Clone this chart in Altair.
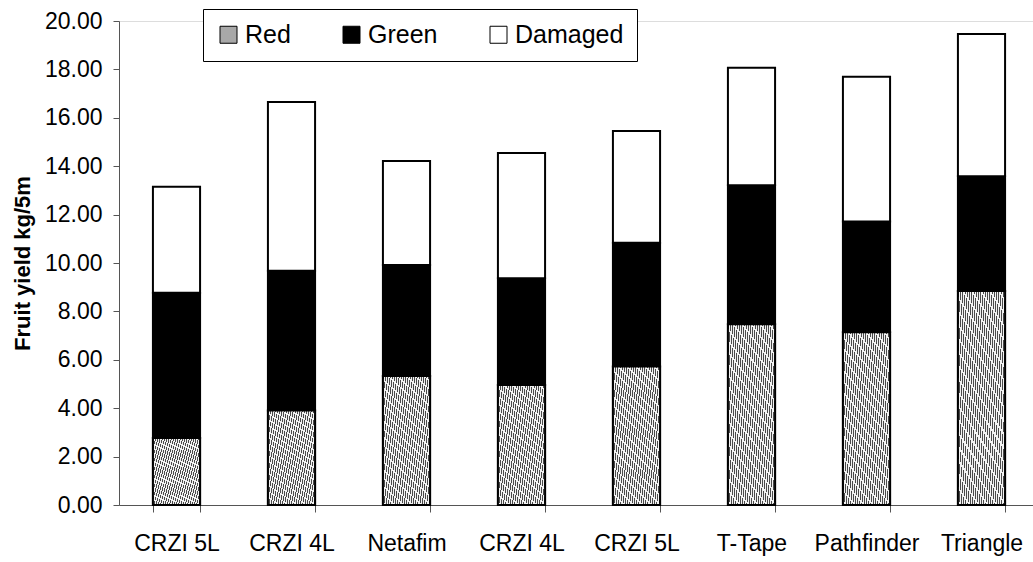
import json
import altair as alt
import pandas as pd

# Fruit yield per treatment, split into red, green and damaged fruit (kg per 5 m)
categories = ["CRZI 5L", "CRZI 4L", "Netafim", "CRZI 4L", "CRZI 5L", "T-Tape", "Pathfinder", "Triangle"]
red = [2.77, 3.90, 5.33, 4.96, 5.72, 7.47, 7.14, 8.84]
green = [6.00, 5.78, 4.59, 4.41, 5.12, 5.74, 4.58, 4.74]
damaged = [4.38, 6.97, 4.29, 5.18, 4.61, 4.86, 5.98, 5.88]
series = ["Red", "Green", "Damaged"]
y_ticks = [0, 2, 4, 6, 8, 10, 12, 14, 16, 18, 20]

rows = []
for i, cat in enumerate(categories):
    for k, (name, vals) in enumerate(zip(series, [red, green, damaged])):
        rows.append({"slot": i, "name": cat, "series": name, "order": k, "value": vals[i]})
df = pd.DataFrame(rows)

FONT = "Liberation Sans"
label_expr = "{}[datum.value]".format(json.dumps(categories))

# fine diagonal striped fill used for the "Red" segments
n_stripes = 34
stops = []
for k in range(n_stripes):
    a = k / n_stripes
    b = (k + 0.4) / n_stripes
    c = (k + 1) / n_stripes
    stops += [
        {"offset": a, "color": "#4a4a4a"},
        {"offset": b, "color": "#4a4a4a"},
        {"offset": b, "color": "#f2f2f2"},
        {"offset": c, "color": "#f2f2f2"},
    ]
# vector runs from the bottom-left corner far enough to cover the whole box
hatch = alt.Gradient(gradient="linear", stops=stops, x1=0, y1=1, x2=1.19, y2=0.642)

x_enc = alt.X(
    "slot:O",
    scale=alt.Scale(range=[0, 920], paddingInner=0.59, paddingOuter=0.295),
    axis=alt.Axis(
        title=None,
        labelExpr=label_expr,
        labelAngle=0,
        labelFont=FONT,
        labelFontSize=23,
        labelColor="black",
        labelPadding=20,
        tickBand="extent",
        tickSize=7,
        tickColor="#555555",
        domainColor="#555555",
    ),
)

y_enc = alt.Y(
    "value:Q",
    stack="zero",
    scale=alt.Scale(domain=[0, 20], nice=False),
    axis=alt.Axis(
        title="Fruit yield kg/5m",
        values=y_ticks,
        format=".2f",
        grid=False,
        labelFont=FONT,
        labelFontSize=23,
        labelColor="black",
        labelPadding=11,
        tickSize=6,
        tickColor="#555555",
        domainColor="#555555",
        titleFont=FONT,
        titleFontSize=22,
        titleFontWeight="bold",
        titleColor="black",
        titleAngle=-90,
        titleX=-90,
        titleY=242,
        titleAlign="center",
        titleBaseline="alphabetic",
    ),
)

bars = alt.Chart(df).mark_bar(stroke="black", strokeWidth=2).encode(
    x=x_enc,
    y=y_enc,
    fill=alt.Fill(
        "series:N",
        scale=alt.Scale(domain=series, range=["#a8a8a8", "#000000", "#ffffff"]),
        legend=alt.Legend(
            title=None,
            orient="none",
            direction="horizontal",
            legendX=84,
            legendY=-12,
            padding=13,
            strokeColor="black",
            fillColor="white",
            symbolType="square",
            symbolSize=289,
            symbolStrokeColor="black",
            symbolStrokeWidth=1,
            symbolOpacity=1,
            labelFont=FONT,
            labelFontSize=25,
            labelColor="black",
            labelOffset=4,
            columnPadding=48,
        ),
    ),
    order=alt.Order("order:Q"),
)

red_bars = (
    alt.Chart(df)
    .transform_filter(alt.datum.series == "Red")
    .mark_bar(stroke="black", strokeWidth=2, fill=hatch)
    .encode(x="slot:O", y=alt.Y("value:Q"))
)

chart = (
    alt.layer(bars, red_bars)
    .properties(
        width=914,
        height=484,
        autosize=alt.AutoSizeParams(type="none"),
        padding={"left": 119, "top": 21, "right": 0, "bottom": 57},
    )
    .configure_view(stroke=None)
    .configure(background="white")
)

chart.save("out.html", embed_options={"renderer": "svg", "actions": False})
